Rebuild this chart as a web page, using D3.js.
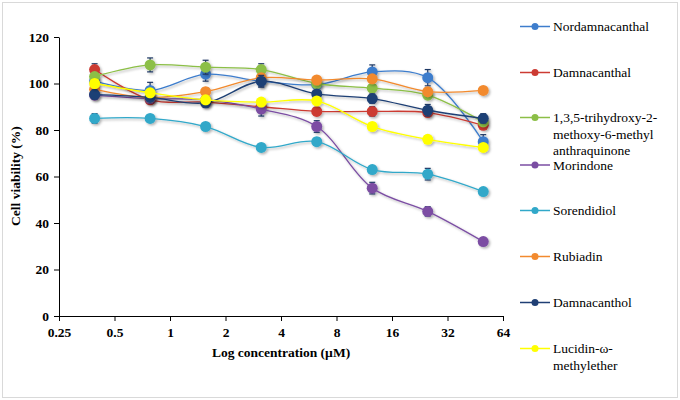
<!DOCTYPE html>
<html><head><meta charset="utf-8">
<script src="https://cdn.jsdelivr.net/npm/d3@7"></script>
<style>body{margin:0;background:#fff}svg{display:block}</style>
</head><body>
<svg id="c" width="680" height="400"></svg>
<script>
const concentrations = [0.39, 0.78, 1.56, 3.125, 6.25, 12.5, 25, 50];
const xTicks = [0.25, 0.5, 1, 2, 4, 8, 16, 32, 64];
const yTicks = [0, 20, 40, 60, 80, 100, 120];
const seriesNames = ["Nordamnacanthal", "Damnacanthal", "1,3,5-trihydroxy-2-methoxy-6-methyl anthraquinone", "Morindone", "Sorendidiol", "Rubiadin", "Damnacanthol", "Lucidin-ω-methylether"];
const legendLines = [["Nordamnacanthal"], ["Damnacanthal"], ["1,3,5-trihydroxy-2-", "methoxy-6-methyl", "anthraquinone"], ["Morindone"], ["Sorendidiol"], ["Rubiadin"], ["Damnacanthol"], ["Lucidin-ω-", "methylether"]];
const seriesColors = ["#3E7DCC", "#CC3B33", "#8CBF47", "#7B4EA3", "#31A8C9", "#F28A2E", "#1F3F74", "#FFFF00"];
const nordamnacanthal = [101, 97, 104, 101, 99.5, 105, 102.5, 75];
const damnacanthal = [106, 93, 92, 90, 88, 88, 87.5, 82];
const trihydroxy = [103, 108, 107, 106, 100, 98, 95, 83.5];
const morindone = [95, 93.5, 93, 89, 81.5, 55, 45, 32];
const sorendidiol = [85, 85, 81.5, 72.5, 75, 63, 61, 53.5];
const rubiadin = [97.5, 94, 96.5, 102.5, 101.5, 102, 96.5, 97];
const damnacanthol = [95.3, 94, 91.7, 101, 95.5, 93.5, 88.5, 85];
const lucidin = [100, 96, 93, 92, 92.5, 81.5, 76, 72.5];
const errNordamnacanthal = [2, 3.5, 3, 2.5, 1.5, 3, 3.5, 3];
const errDamnacanthal = [2.5, 1.5, 1.5, 1.5, 1.5, 2, 1.5, 1.5];
const errTrihydroxy = [1.5, 3, 3, 2.5, 1.5, 1.5, 1.5, 1.5];
const errMorindone = [1.5, 1.5, 1.5, 3, 2.5, 2.5, 2, 1.5];
const errSorendidiol = [2, 1.5, 1, 1, 1.5, 1.5, 2.5, 1];
const errRubiadin = [1.5, 1.5, 1.5, 1.5, 1.5, 1.5, 1.5, 1];
const errDamnacanthol = [2, 1.5, 2, 2.5, 1.5, 2, 2.5, 2];
const errLucidin = [1, 1, 1, 1, 1, 1, 1.5, 1];

const values = [nordamnacanthal, damnacanthal, trihydroxy, morindone, sorendidiol, rubiadin, damnacanthol, lucidin];
const errors = [errNordamnacanthal, errDamnacanthal, errTrihydroxy, errMorindone, errSorendidiol, errRubiadin, errDamnacanthol, errLucidin];
const series = seriesNames.map((n, i) => ({name: n, color: seriesColors[i], legend: legendLines[i],
  pts: concentrations.map((c, j) => ({x: c, y: values[i][j], e: errors[i][j]}))}));

const svg = d3.select("#c");
const font = "\"Liberation Serif\", \"Times New Roman\", serif";

svg.append("rect").attr("x", 2.5).attr("y", 2.5).attr("width", 675).attr("height", 395)
  .attr("fill", "#fff").attr("stroke", "#D9D9D9").attr("stroke-width", 1);

const defs = svg.append("defs");
const f = defs.append("filter").attr("id", "sh").attr("x", "-50%").attr("y", "-50%").attr("width", "200%").attr("height", "200%");
f.append("feDropShadow").attr("dx", 1.5).attr("dy", 1.5).attr("stdDeviation", 1.2).attr("flood-color", "#000").attr("flood-opacity", 0.3);

const x = d3.scaleLog().base(2).domain([0.25, 64]).range([59, 503]);
const y = d3.scaleLinear().domain([0, 120]).range([316, 37]);

const xAxis = svg.append("g").attr("transform", "translate(0,316)")
  .call(d3.axisBottom(x).tickValues(xTicks).tickFormat(d => String(d)).tickSizeInner(5).tickSizeOuter(0));
const yAxis = svg.append("g").attr("transform", "translate(59,0)")
  .call(d3.axisLeft(y).tickValues(yTicks).tickSizeInner(5).tickSizeOuter(0));
[xAxis, yAxis].forEach(a => {
  a.attr("font-family", font);
  a.select(".domain").attr("stroke", "#000").attr("stroke-width", 1);
  a.selectAll(".tick line").attr("stroke", "#000");
  a.selectAll("text").style("font-family", font).attr("font-weight", "bold").attr("font-size", 13.5).attr("fill", "#000");
});
xAxis.selectAll("text").attr("dy", "0.95em");
yAxis.selectAll("text").attr("x", -10);

svg.append("text").attr("x", 281).attr("y", 357).attr("text-anchor", "middle")
  .style("font-family", font).attr("font-weight", "bold").attr("font-size", 13.5).text("Log concentration (µM)");
svg.append("text").attr("transform", "translate(20,176) rotate(-90)").attr("text-anchor", "middle")
  .style("font-family", font).attr("font-weight", "bold").attr("font-size", 13.5).text("Cell viability (%)");

const line = d3.line().x(d => x(d.x)).y(d => y(d.y)).curve(d3.curveCatmullRom.alpha(0.5));
const plot = svg.append("g");
series.forEach(s => {
  const g = plot.append("g").attr("filter", "url(#sh)");
  g.append("path").datum(s.pts).attr("d", line).attr("fill", "none").attr("stroke", s.color).attr("stroke-width", 1.3);
  const eb = g.selectAll(".eb").data(s.pts).enter().append("g").attr("stroke", "#1F3864").attr("stroke-width", 1.2);
  eb.append("line").attr("x1", d => x(d.x)).attr("x2", d => x(d.x)).attr("y1", d => y(d.y + d.e)).attr("y2", d => y(d.y - d.e));
  eb.append("line").attr("x1", d => x(d.x) - 3).attr("x2", d => x(d.x) + 3).attr("y1", d => y(d.y + d.e)).attr("y2", d => y(d.y + d.e));
  eb.append("line").attr("x1", d => x(d.x) - 3).attr("x2", d => x(d.x) + 3).attr("y1", d => y(d.y - d.e)).attr("y2", d => y(d.y - d.e));
  g.selectAll("circle").data(s.pts).enter().append("circle")
    .attr("cx", d => x(d.x)).attr("cy", d => y(d.y)).attr("r", 5.5).attr("fill", s.color);
});

const legendY = [26.5, 72.5, 117.5, 165, 210.5, 256.5, 302.5, 348.5];
const lg = svg.append("g");
series.forEach((s, i) => {
  const g = lg.append("g").attr("transform", `translate(0,${legendY[i]})`);
  g.append("line").attr("x1", 520).attr("x2", 550).attr("y1", 0).attr("y2", 0).attr("stroke", s.color).attr("stroke-width", 1.5);
  g.append("circle").attr("cx", 535).attr("cy", 0).attr("r", 3.5).attr("fill", s.color);
  s.legend.forEach((t, k) => {
    g.append("text").attr("x", 553).attr("y", k * 16.3).attr("dy", "0.35em")
      .style("font-family", font).attr("font-size", 13.5).attr("fill", "#000").text(t);
  });
});
</script>
</body></html>
